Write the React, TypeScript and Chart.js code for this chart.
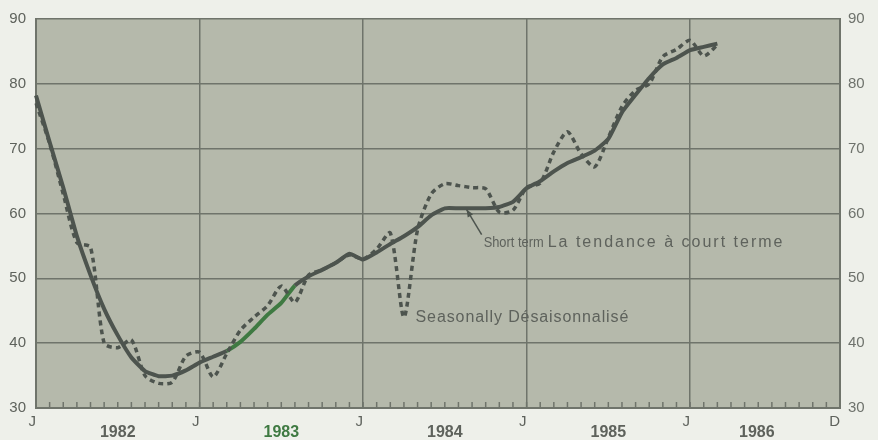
import React, { useEffect, useRef } from 'react';
import { Chart, registerables } from 'chart.js';

Chart.register(...registerables);

// ---- data ----
const years = ['1982', '1983', '1984', '1985', '1986'];
const monthInitials = ['J', 'F', 'M', 'A', 'M', 'J', 'J', 'A', 'S', 'O', 'N', 'D'];
const yTicks = [30, 40, 50, 60, 70, 80, 90];

// Short-term trend (solid), monthly from Jan 1982
const shortTermTrend = [
  78.2, 71, 64, 56.5, 50.5, 45.3, 41.2, 37.8, 35.7, 34.9, 35, 35.8,
  37, 37.9, 38.8, 40.2, 42.2, 44.4, 46.2, 48.9, 50.3, 51.3, 52.4, 53.8,
  52.9, 54, 55.3, 56.5, 57.9, 59.7, 60.8, 60.8, 60.8, 60.8, 61, 61.8,
  63.9, 65, 66.5, 67.8, 68.7, 69.7, 71.5, 75.6, 78.3, 80.9, 83, 84,
  85.2, 85.7, 86.2,
];

// Seasonally adjusted (dashed), monthly from Jan 1982
const seasonallyAdjusted = [
  77, 70.8, 63, 55.5, 54.8, 40, 39.3, 40.5, 35, 33.8, 34, 38,
  38.6, 34.8, 38.4, 42, 44, 45.8, 48.8, 46.3, 50.5, 51.3, 52.4, 53.6,
  53, 54.5, 57, 44, 57.5, 63, 64.6, 64.3, 64, 63.8, 60.2, 60.5,
  64, 64.7, 69.5, 72.6, 69.2, 67.2, 71.7, 76.5, 79, 80, 84.2, 85.3,
  86.7, 84.3, 86,
];

const labels: string[] = [];
years.forEach((y) => monthInitials.forEach((m) => labels.push(m + ' ' + y)));

const PAGE_BG = '#eef0ea';
const PLOT_BG = '#b5b9ab';
const GRID = '#6f746b';
const LINE = '#4d544e';
const GREEN = '#3f7a42';
const TEXT = '#5e625c';
const FONT = '"Liberation Sans", Arial, sans-serif';

const decorPlugin = {
  id: 'decor',
  beforeDraw(chart: any) {
    const { ctx, chartArea: a } = chart;
    ctx.save();
    ctx.fillStyle = PAGE_BG;
    ctx.fillRect(0, 0, chart.width, chart.height);
    ctx.fillStyle = PLOT_BG;
    ctx.fillRect(a.left, a.top, a.right - a.left, a.bottom - a.top);
    ctx.restore();
  },
  afterDraw(chart: any) {
    const { ctx, chartArea: a } = chart;
    const xs = chart.scales.x;
    const ys = chart.scales.y;
    ctx.save();
    // inward monthly ticks
    ctx.strokeStyle = GRID;
    ctx.lineWidth = 1.5;
    for (let i = 0; i < labels.length; i++) {
      const px = xs.getPixelForValue(i);
      ctx.beginPath();
      ctx.moveTo(px, a.bottom);
      ctx.lineTo(px, a.bottom - 6);
      ctx.stroke();
    }
    // year labels
    ctx.font = 'bold 16px ' + FONT;
    ctx.textAlign = 'center';
    ctx.textBaseline = 'middle';
    years.forEach((y, k) => {
      const start = k * 12;
      const end = Math.min(start + 12, labels.length - 1);
      const px = xs.getPixelForValue((start + end) / 2 - (k === years.length - 1 ? 0.6 : 0));
      ctx.fillStyle = y === '1983' ? GREEN : TEXT;
      ctx.fillText(y, px, 433);
    });

    // annotations
    ctx.fillStyle = TEXT;
    ctx.textAlign = 'left';
    ctx.textBaseline = 'middle';
    const stX = xs.getPixelForValue(32.85);
    const stY = ys.getPixelForValue(55.5);
    ctx.font = '15px ' + FONT;
    (ctx as any).letterSpacing = '0px';
    ctx.fillText('Short term', stX, stY, 60);
    ctx.font = '16px ' + FONT;
    (ctx as any).letterSpacing = '2px';
    ctx.fillText('La tendance à court terme', stX + 64, stY);

    // arrow to trend line
    const tipX = xs.getPixelForValue(31.6);
    const tipY = ys.getPixelForValue(60.6);
    const tailX = stX - 2;
    const tailY = stY - 8;
    ctx.strokeStyle = LINE;
    ctx.lineWidth = 1.5;
    ctx.beginPath();
    ctx.moveTo(tailX, tailY);
    ctx.lineTo(tipX, tipY);
    ctx.stroke();
    const ang = Math.atan2(tipY - tailY, tipX - tailX);
    ctx.fillStyle = LINE;
    ctx.beginPath();
    ctx.moveTo(tipX, tipY);
    ctx.lineTo(tipX - 8 * Math.cos(ang - 0.4), tipY - 8 * Math.sin(ang - 0.4));
    ctx.lineTo(tipX - 8 * Math.cos(ang + 0.4), tipY - 8 * Math.sin(ang + 0.4));
    ctx.closePath();
    ctx.fill();

    ctx.fillStyle = TEXT;
    ctx.font = '16px ' + FONT;
    (ctx as any).letterSpacing = '0.9px';
    ctx.fillText('Seasonally Désaisonnalisé', xs.getPixelForValue(27.85), ys.getPixelForValue(43.9));
    (ctx as any).letterSpacing = '0px';
    ctx.restore();
  },
};

export default function App() {
  const ref = useRef<HTMLCanvasElement | null>(null);

  useEffect(() => {
    document.body.style.margin = '0';
    const canvas = ref.current!;
    const chart = new Chart(canvas, {
      type: 'line',
      data: {
        labels,
        datasets: [
          {
            label: 'Seasonally adjusted',
            data: seasonallyAdjusted,
            borderColor: LINE,
            borderWidth: 3.5,
            borderDash: [5, 4],
            pointRadius: 0,
            tension: 0.25,
            fill: false,
          },
          {
            label: 'Short term trend',
            data: shortTermTrend,
            borderColor: LINE,
            borderWidth: 4,
            pointRadius: 0,
            tension: 0.15,
            fill: false,
            segment: {
              borderColor: (c: any) =>
                c.p0DataIndex >= 14 && c.p0DataIndex < 19 ? GREEN : LINE,
            },
          },
        ],
      },
      options: {
        responsive: false,
        animation: false,
        layout: { padding: { top: 16, left: 0, right: 0, bottom: 0 } },
        plugins: {
          legend: { display: false },
          tooltip: { enabled: false },
        },
        scales: {
          x: {
            type: 'category',
            offset: false,
            afterFit: (s: any) => {
              s.height = 32;
            },
            grid: {
              color: (c: any) => (c.index % 12 === 0 ? GRID : 'rgba(0,0,0,0)'),
              lineWidth: 1.5,
              drawTicks: false,
            },
            border: { display: true, color: GRID, width: 2 },
            ticks: {
              autoSkip: false,
              maxRotation: 0,
              minRotation: 0,
              align: 'end',
              padding: 5,
              color: TEXT,
              font: { family: FONT, size: 15 },
              callback: (_v: any, i: number) =>
                i % 12 === 0 ? 'J' : i === labels.length - 1 ? 'D' : '',
            },
          },
          y: {
            position: 'left',
            min: 30,
            max: 90,
            afterFit: (s: any) => {
              s.width = 36;
            },
            afterBuildTicks: (s: any) => {
              s.ticks = yTicks.map((v) => ({ value: v }));
            },
            grid: { color: GRID, lineWidth: 1.5, drawTicks: false },
            border: { display: true, color: GRID, width: 2 },
            ticks: {
              padding: 10,
              color: TEXT,
              font: { family: FONT, size: 15 },
            },
          },
          y2: {
            position: 'right',
            min: 30,
            max: 90,
            afterFit: (s: any) => {
              s.width = 38;
            },
            afterBuildTicks: (s: any) => {
              s.ticks = yTicks.map((v) => ({ value: v }));
            },
            grid: { display: false, drawTicks: false },
            border: { display: true, color: GRID, width: 2 },
            ticks: {
              padding: 8,
              color: '#6e726c',
              font: { family: FONT, size: 15 },
            },
          },
        },
      },
      plugins: [decorPlugin],
    } as any);
    return () => chart.destroy();
  }, []);

  return (
    <div style={{ position: 'absolute', left: 0, top: 0, width: 878, height: 440, background: PAGE_BG }}>
      <canvas ref={ref} width={878} height={440} style={{ display: 'block', width: 878, height: 440 }} />
    </div>
  );
}
